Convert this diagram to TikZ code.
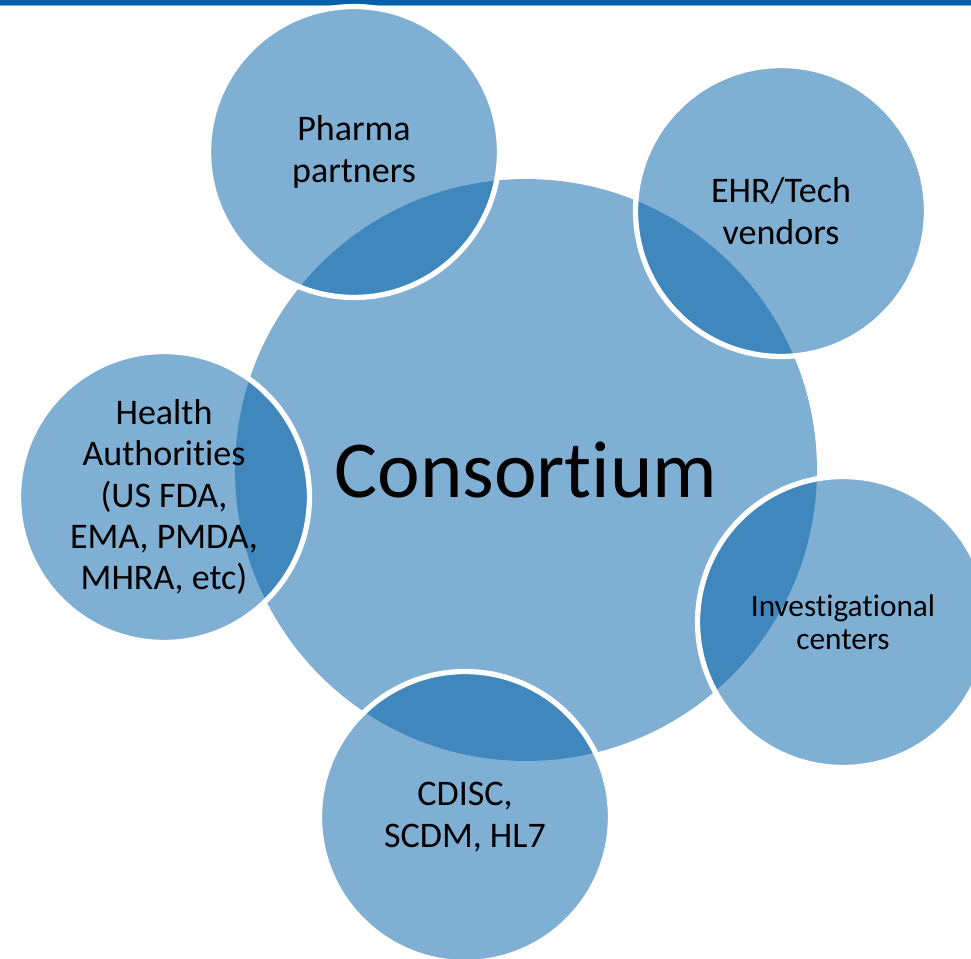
\documentclass[tikz,border=0pt]{standalone}
\usepackage{fontspec}
\setmainfont{Carlito}[Ligatures=NoCommon]
\usetikzlibrary{positioning}
\definecolor{hubblue}{RGB}{1, 95, 169}
\definecolor{barblue}{RGB}{4, 96, 168}
\definecolor{barline}{RGB}{128, 176, 216}
\tikzset{
  % Central circle
  hub/.style       = {circle, inner sep=0pt, minimum size=11.64cm,
                      fill=hubblue, fill opacity=0.5, text opacity=1,
                      font=\fontsize{46}{52}\selectfont},
  % Outer circles
  partner/.style   = {circle, inner sep=0pt, minimum size=5.82cm,
                      fill=hubblue, fill opacity=0.5, text opacity=1,
                      draw=white, line width=3pt, align=center,
                      font=\fontsize{20.5}{23.6}\selectfont},
  partnersm/.style = {partner, font=\fontsize{17.8}{18.8}\selectfont},
}

\begin{document}
\begin{tikzpicture}[x=0.02cm, y=-0.02cm]
  \useasboundingbox (0,0) rectangle (971,959);
  \clip (0,0) rectangle (971,959);
  % header bar
  \fill[barblue] (0,0) rectangle (971,5);
  \fill[barline] (0,5) rectangle (971,6.5);

  \node[hub] (consortium) at (526,470) {Consortium};

  \node[partner]   (pharma)   at (354,152) {Pharma\\partners};
  \node[partner]   (ehr)      at (781,211) {EHR/Tech\\vendors};
  \node[partner]   (health)   at (164,497) {Health\\Authorities\\(US FDA,\\EMA, PMDA,\\MHRA, etc)};
  \node[partnersm] (centers)  at (843,622) {Investigational\\centers};
  \node[partner]   (cdisc)    at (465,817) {CDISC,\\SCDM, HL7};
\end{tikzpicture}
\end{document}
